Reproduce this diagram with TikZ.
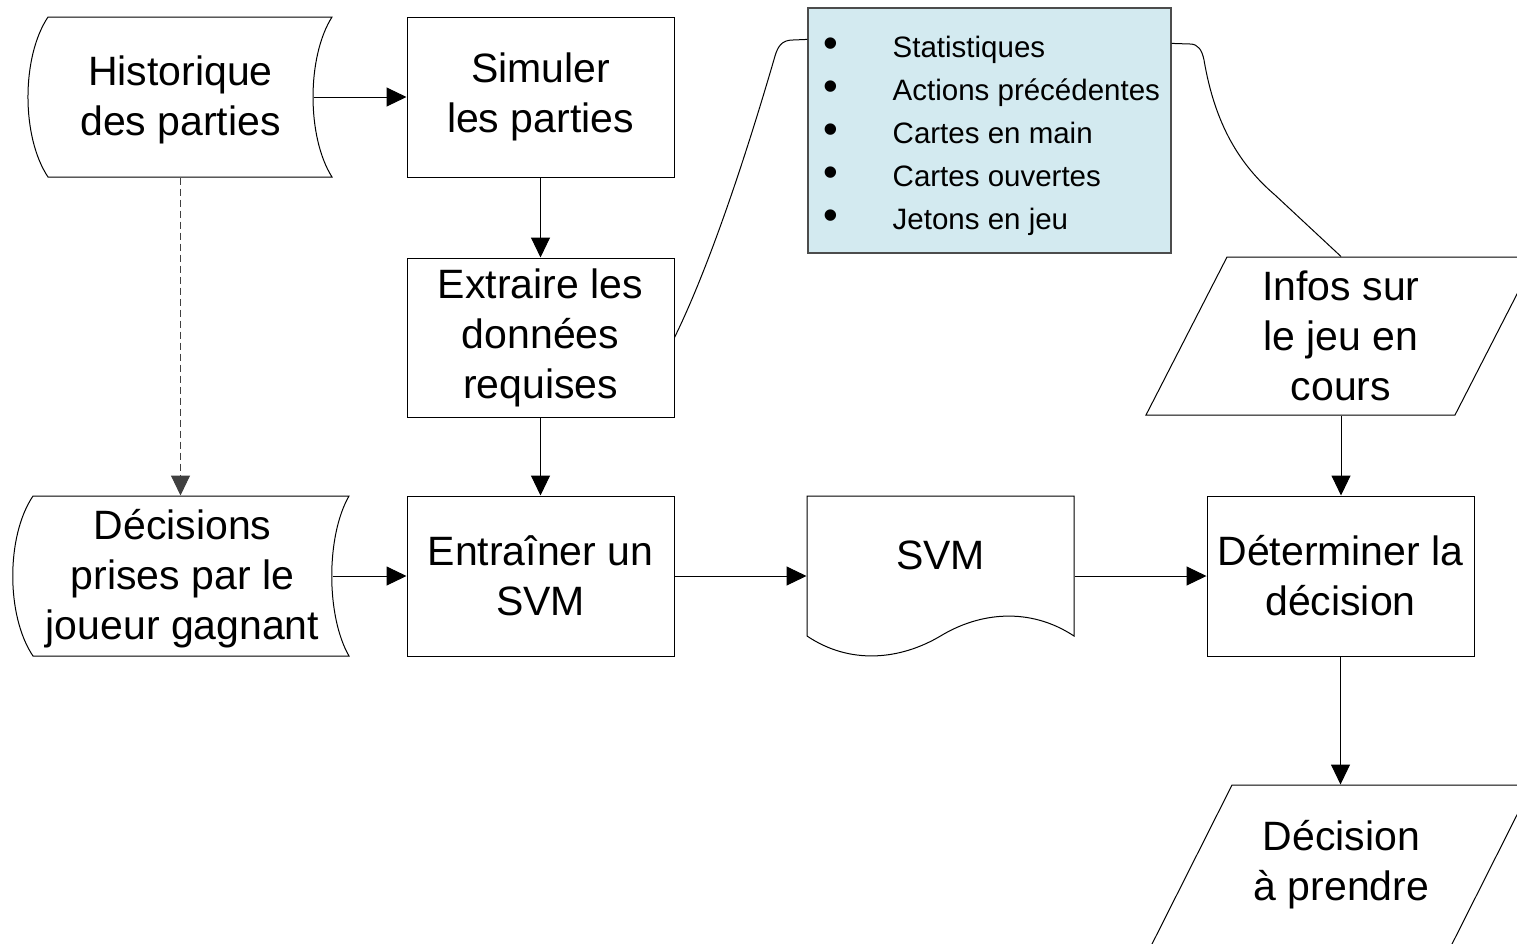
\documentclass[tikz,border=0pt]{standalone}
\usepackage{fontspec}
\setmainfont{Liberation Sans}
\usetikzlibrary{arrows.meta,calc}
\definecolor{annotfill}{HTML}{D3EAF0}
\newcommand\bigtxt{\fontsize{41}{50}\selectfont}
\begin{document}
\begin{tikzpicture}[x=1pt,y=-1pt,line width=1pt,
  box/.style={draw, minimum width=267pt, minimum height=160pt, inner sep=0pt, align=center, font=\bigtxt},
  shapebox/.style={minimum height=160pt, inner sep=0pt, align=center, font=\bigtxt},
  outline/.style={draw, line width=1pt},
  arr/.style={-{Triangle[length=20pt,width=19pt]}},
  callout/.style={draw, line width=1pt},
  annot/.style={draw=black!70, fill=annotfill, line width=1.2pt, minimum width=363pt, minimum height=245pt, inner sep=0pt}]
\useasboundingbox (0,0) rectangle (1517,943);

% nodes
\node[shapebox, minimum width=265pt, minimum height=154pt] (hist) at (180.5,100) {Historique\\des parties};
\node[box] (sim) at (540.5,97) {Simuler\\les parties};
\node[box, minimum height=159pt] (ext) at (540.5,337.5) {Extraire les\\données\\requises};
\node[box] (ent) at (540.5,576) {Entraîner un\\SVM};
\node[shapebox, minimum width=299pt, minimum height=166pt] (dec) at (182.5,579) {Décisions\\prises par le\\joueur gagnant};
\node[shapebox, minimum width=267pt] (svm) at (940.5,576) {};
\node[font=\bigtxt, inner sep=0pt] (svmtxt) at (940.5,555) {SVM};
\node[box] (det) at (1340.5,576) {Déterminer la\\décision};
\node[shapebox, minimum width=230pt, minimum height=158pt] (inf) at (1341,336) {Infos sur\\le jeu en\\cours};
\node[shapebox, minimum width=230pt, minimum height=159pt] (dcp) at (1341.5,864.5) {Décision\\à prendre};
\node[annot] (ann) at (989.5,130.5) {\fontsize{29.5}{43}\selectfont\raisebox{0pt}[\dimexpr\height+8pt\relax][\depth]{\begin{tabular}{@{\hspace{4pt}}l@{\hspace{55pt}}l@{}}
{\fontsize{42}{43}\selectfont •} & Statistiques\\
{\fontsize{42}{43}\selectfont •} & Actions précédentes\\
{\fontsize{42}{43}\selectfont •} & Cartes en main\\
{\fontsize{42}{43}\selectfont •} & Cartes ouvertes\\
{\fontsize{42}{43}\selectfont •} & Jetons en jeu
\end{tabular}}};

% shape outlines
\draw[outline] (48,17) -- (332,17) .. controls (306.7,57) and (306.7,137) .. (332,177) -- (48,177) .. controls (21.3,137) and (21.3,57) .. cycle;
\draw[outline] (33,496) -- (349,496) .. controls (326,536) and (326,616) .. (349,656) -- (33,656) .. controls (6,616) and (6,536) .. cycle;
\draw[outline] (807,496) -- (1074,496) -- (1074,636) .. controls (1030,607) and (980,612) .. (940.5,636) .. controls (900,660) and (850,665) .. (807,636) -- cycle;
\draw[outline] (1227,257) -- (1536,257) -- (1455,415) -- (1146,415) -- cycle;
\draw[outline] (1232,785) -- (1532,785) -- (1450,948) -- (1150,948) -- cycle;

% connectors
\draw[arr] (sim.west -| hist.east) -- (sim.west);
\draw[arr] (sim.south) -- (ext.north);
\draw[arr] (ext.south) -- (ent.north);
\draw[arr, draw=black!75, dash pattern=on 7pt off 4pt] (hist.south) -- (hist.south |- dec.north);
\draw[arr] (ent.west -| dec.east) -- (ent.west);
\draw[arr] (ent.east) -- (svm.west);
\draw[arr] (svm.east) -- (det.west);
\draw[arr] (inf.south) -- (inf.south |- det.north);
\draw[arr] (det.south) -- (det.south |- dcp.north);

% callout lines
\coordinate (annL) at ($(ann.north west)+(0,32)$);
\coordinate (annR) at ($(ann.north east)+(0,36)$);
\draw[callout] (annL) -- (793,40) .. controls (782,40) and (778,46) .. (775,56) .. controls (755,125) and (715,255) .. (ext.east);
\draw[callout] (annR) -- (1190,44) .. controls (1198,44) and (1202,50) .. (1204,60) .. controls (1215,125) and (1240,165) .. (1275,195) -- (inf.north);
\end{tikzpicture}
\end{document}
